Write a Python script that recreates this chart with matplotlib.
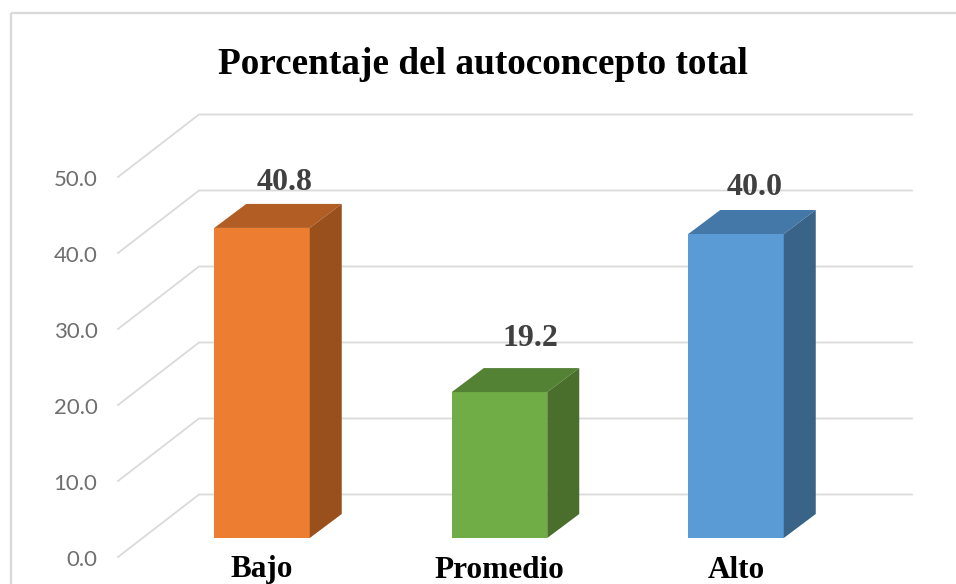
import matplotlib
matplotlib.use("Agg")
import matplotlib.pyplot as plt
from matplotlib.patches import Polygon

# Datos del grafico
categorias = ["Bajo", "Promedio", "Alto"]
valores = [40.8, 19.2, 40.0]
etiquetas_valor = ["40.8", "19.2", "40.0"]
ticks = [0, 10, 20, 30, 40, 50]
titulo = "Porcentaje del autoconcepto total"

colores_frente = ["#ED7D31", "#70AD47", "#5B9BD5"]
colores_arriba = ["#B25D24", "#548235", "#4478A8"]
colores_lado = ["#9A501D", "#4A6F2C", "#396387"]

# Geometria en pixeles de la pseudo 3D
ESCALA = 7.6      # pixeles por unidad
Y_BASE = 538      # pixel de y para valor 0 en el frente de las barras
ANCHO_FIG, ALTO_FIG = 956, 584
centros = [262, 499.5, 736]
ANCHO_BARRA = 95.5
PROF_X, PROF_Y = 32, 24
PARED_X0, PARED_X1 = 199, 912
PARED_Y0 = 494.5
PISO_X0, PISO_Y0 = 118, 557

# Desplazamiento de cada etiqueta respecto a la esquina superior de la barra
etiqueta_dx = [23, 31, 19]
etiqueta_dy = [21, 30, 23]


def py(v):
    # pixel vertical -> valor del eje
    return (Y_BASE - v) / ESCALA


fig = plt.figure(figsize=(ANCHO_FIG / 100, ALTO_FIG / 100), dpi=100)
ax = fig.add_axes([0, 0, 1, 1])
ax.set_xlim(0, ANCHO_FIG)
ax.set_ylim(py(ALTO_FIG), py(0))
ax.axis("off")

# Marco del grafico
ax.plot([11, 11], [py(584), py(13)], color="#D9D9D9", lw=1.7, solid_capstyle="butt")
ax.plot([11, 956], [py(13), py(13)], color="#D9D9D9", lw=1.7, solid_capstyle="butt")

# Rejilla de la pared y del lateral, con las etiquetas del eje
for t in ticks:
    y_pared = py(PARED_Y0) + t
    y_frente = py(PISO_Y0) + t
    ax.plot([PISO_X0, PARED_X0, PARED_X1], [y_frente, y_pared, y_pared],
            color="#DADADA", lw=1.3, solid_joinstyle="miter", zorder=1)
    ax.text(97.5, y_frente - 0.4, f"{t:.1f}", ha="right", va="center", fontsize=16,
            family="Lato", color="#6F6F6F", zorder=5)

# Barras con cara frontal, superior y lateral
prof_v = PROF_Y / ESCALA
for i, v in enumerate(valores):
    x0 = centros[i] - ANCHO_BARRA / 2
    x1 = centros[i] + ANCHO_BARRA / 2
    ax.bar(centros[i], v, width=ANCHO_BARRA, bottom=0, color=colores_frente[i], zorder=3)
    ax.add_patch(Polygon([(x0, v), (x1, v), (x1 + PROF_X, v + prof_v), (x0 + PROF_X, v + prof_v)],
                         closed=True, facecolor=colores_arriba[i], edgecolor="none", zorder=3))
    ax.add_patch(Polygon([(x1, 0), (x1 + PROF_X, prof_v), (x1 + PROF_X, v + prof_v), (x1, v)],
                         closed=True, facecolor=colores_lado[i], edgecolor="none", zorder=3))

    ax.text(centros[i] + etiqueta_dx[i], v + prof_v + etiqueta_dy[i] / ESCALA, etiquetas_valor[i],
            ha="center", va="center", fontsize=23, fontweight="bold",
            family="Liberation Serif", color="#404040", zorder=4)
    ax.text(centros[i], py(570), categorias[i], ha="center", va="center",
            fontsize=22.5, fontweight="bold", family="Liberation Serif", color="black", zorder=4)

# Titulo
ax.text(483, py(65), titulo, ha="center", va="center", fontsize=26.8, fontweight="bold",
        family="Liberation Serif", color="black")

fig.savefig("out.png", dpi=100)
